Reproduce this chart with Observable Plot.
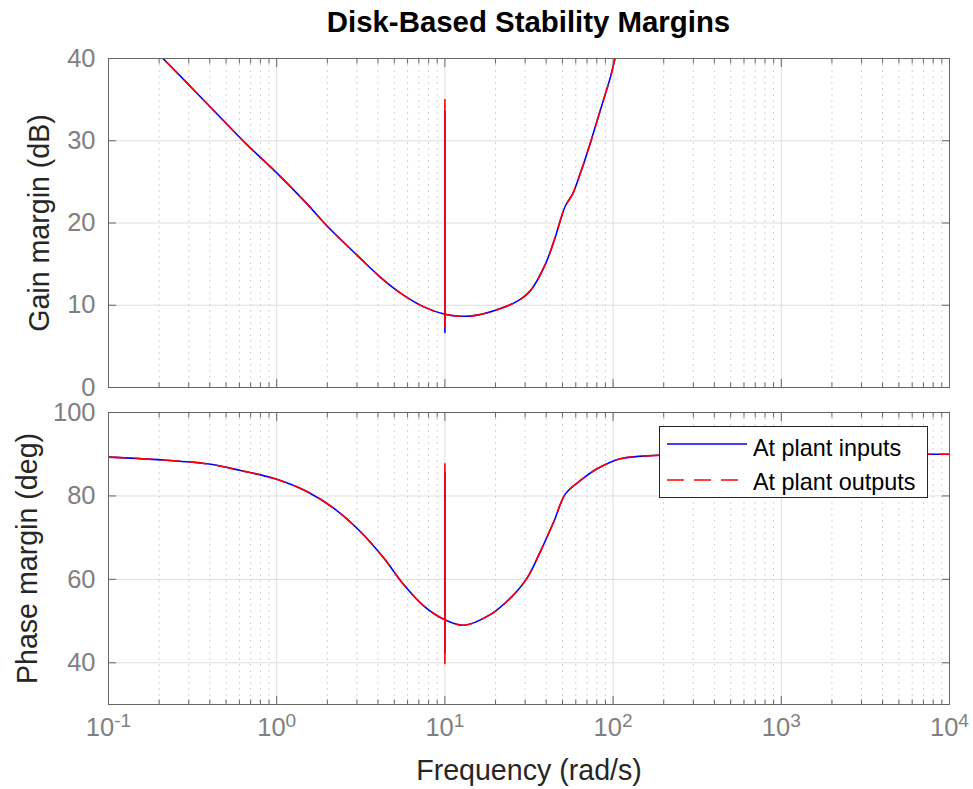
<!DOCTYPE html>
<html><head><meta charset="utf-8">
<script src="https://cdn.jsdelivr.net/npm/d3@7"></script>
<script src="https://cdn.jsdelivr.net/npm/@observablehq/plot@0.6"></script>
<style>
html,body{margin:0;padding:0;background:#fff;}
#wrap{position:relative;width:973px;height:789px;font-family:"Liberation Sans",Arial,sans-serif;overflow:hidden;background:#fff;}
#title{position:absolute;left:108px;width:841px;top:4px;text-align:center;font-weight:bold;font-size:29.4px;color:#000;line-height:36px;}
.panel{position:absolute;left:0;}
#legend{position:absolute;left:659px;top:426px;width:267px;height:70px;border:1px solid #262626;background:#fff;font-size:23.4px;color:#000;}
#legend span{position:absolute;left:93px;line-height:26px;white-space:nowrap;}
#legend svg{position:absolute;left:0;top:0;}
</style></head><body>
<div id="wrap">
  <div id="title">Disk-Based Stability Margins</div>
  <div id="top" class="panel" style="top:0"></div>
  <div id="bot" class="panel" style="top:400px"></div>
  <div id="legend"></div>
</div>
<script>
// ---- data ----
const seriesNames = ["At plant inputs", "At plant outputs"];
const seriesColors = ["#0000ff", "#ff0000"];

// smooth part of the curves (identical for both series)
const gainFreq = [0.1, 0.204, 0.307, 0.485, 0.668, 1.0, 1.52, 2.0, 3.0, 4.14, 5.7, 7.5, 10, 12.4, 15.6, 21.4, 27.0, 32.3, 39.6, 45.5, 48.7, 52.1, 57.4, 64.0, 73.4, 84.2, 96.6, 103, 120];
const gainInputs = [46.6, 40.3, 36.6, 32.4, 29.5, 26.1, 22.3, 19.6, 16.1, 13.4, 11.2, 9.8, 8.9, 8.66, 8.8, 9.6, 10.5, 11.8, 15.0, 18.4, 20.4, 22.1, 23.5, 26.1, 29.8, 33.8, 37.8, 40.1, 44.5];
const gainOutputs = [46.6, 40.3, 36.6, 32.4, 29.5, 26.1, 22.3, 19.6, 16.1, 13.4, 11.2, 9.8, 8.9, 8.66, 8.8, 9.6, 10.5, 11.8, 15.0, 18.4, 20.4, 22.1, 23.5, 26.1, 29.8, 33.8, 37.8, 40.1, 44.5];

const phaseFreq = [0.1, 0.195, 0.386, 0.61, 0.98, 1.52, 2.19, 3.15, 4.33, 5.7, 7.5, 10, 12.97, 18.7, 24.5, 30.8, 37.0, 44.4, 52.1, 64.0, 80.4, 110.6, 174.6, 300, 1000, 10000];
const phaseInputs = [89.3, 88.7, 87.7, 86.1, 84.1, 81.0, 77.0, 71.4, 65.1, 58.7, 53.6, 50.3, 49.0, 51.6, 55.5, 60.3, 66.7, 73.8, 80.5, 83.7, 86.5, 88.9, 89.7, 89.9, 90.0, 90.0];
const phaseOutputs = [89.3, 88.7, 87.7, 86.1, 84.1, 81.0, 77.0, 71.4, 65.1, 58.7, 53.6, 50.3, 49.0, 51.6, 55.5, 60.3, 66.7, 73.8, 80.5, 83.7, 86.5, 88.9, 89.7, 89.9, 90.0, 90.0];

// notch spike at 10 rad/s (top, bottom)
const spikeFreq = [10, 10];
const gainSpikeInputs = [33.6, 6.7];
const gainSpikeOutputs = [35.0, 7.4];
const phaseSpikeInputs = [85.7, 42.5];
const phaseSpikeOutputs = [87.7, 39.8];

const xMajorTicks = [0.1, 1, 10, 100, 1000, 10000];
const xTickExponents = ["-1", "0", "1", "2", "3", "4"];
const gainTicks = [0, 10, 20, 30, 40];
const phaseTicks = [40, 60, 80, 100];

const xMinorTicks = xMajorTicks.slice(0, -1).flatMap(d => [2,3,4,5,6,7,8,9].map(m => m * d));

const FONT = '"Liberation Sans", Arial, sans-serif';
const BOX = "#666666";
const TICKLBL = "#808080";
const LBL = "#262626";
const DASH = "17,10";

function makePanel({height, mt, mb, yDomain, yTicks, freq, inputs, outputs, spikeIn, spikeOut, yLabel, labelX, showX}) {
  const dIn = freq.map((f, i) => ({f, v: inputs[i]}));
  const dOut = freq.map((f, i) => ({f, v: outputs[i]}));
  const sIn = spikeFreq.map((f, i) => ({f, v: spikeIn[i]}));
  const sOut = spikeFreq.map((f, i) => ({f, v: spikeOut[i]}));
  const none = () => "";
  const marks = [
    Plot.ruleX(xMinorTicks, {stroke: "#d2d2d2", strokeDasharray: "2,4"}),
    Plot.ruleX(xMajorTicks, {stroke: "#dedede"}),
    Plot.ruleY(yTicks, {stroke: "#dedede"}),
    Plot.line(dIn, {x: "f", y: "v", stroke: seriesColors[0], strokeWidth: 1.6, curve: "catmull-rom", clip: true}),
    Plot.line(sIn, {x: "f", y: "v", stroke: seriesColors[0], strokeWidth: 1.6, clip: true}),
    Plot.line(dOut, {x: "f", y: "v", stroke: seriesColors[1], strokeWidth: 1.6, strokeDasharray: DASH, curve: "catmull-rom", clip: true}),
    Plot.line(sOut, {x: "f", y: "v", stroke: seriesColors[1], strokeWidth: 1.6, clip: true}),
    Plot.frame({stroke: BOX, strokeWidth: 1}),
    // inward ticks
    Plot.axisX(xMajorTicks, {anchor: "bottom", tickSize: 8, dy: -8, tickFormat: none, stroke: BOX, label: null}),
    Plot.axisX(xMinorTicks, {anchor: "bottom", tickSize: 4.5, dy: -4.5, tickFormat: none, stroke: BOX, label: null}),
    Plot.axisX(xMajorTicks, {anchor: "top", tickSize: 8, dy: 8, tickFormat: none, stroke: BOX, label: null}),
    Plot.axisX(xMinorTicks, {anchor: "top", tickSize: 4.5, dy: 4.5, tickFormat: none, stroke: BOX, label: null}),
    Plot.axisY(yTicks, {anchor: "left", tickSize: 8, dx: 8, tickFormat: none, stroke: BOX, label: null}),
    Plot.axisY(yTicks, {anchor: "right", tickSize: 8, dx: -8, tickFormat: none, stroke: BOX, label: null}),
    // tick labels
    Plot.axisY(yTicks, {anchor: "left", tickSize: 0, tickPadding: 13, fill: TICKLBL, fontSize: 25.5, label: null}),
    Plot.text([yLabel], {text: d => d, frameAnchor: "left", dx: labelX - 108, rotate: -90, textAnchor: "middle", lineAnchor: "bottom", fontSize: 28.6, fill: LBL})
  ];
  if (showX) {
    marks.push(Plot.axisX(xMajorTicks, {anchor: "bottom", tickSize: 0, tickPadding: 13, fill: TICKLBL, fontSize: 25.5, label: null,
      tickFormat: (d) => xTickExponents[xMajorTicks.indexOf(d)]}));
    marks.push(Plot.text(["Frequency (rad/s)"], {text: d => d, frameAnchor: "bottom", dy: 66, lineAnchor: "middle", fontSize: 28.6, fill: LBL}));
  }
  return Plot.plot({
    width: 973, height,
    marginLeft: 108, marginRight: 24, marginTop: mt, marginBottom: mb,
    style: {fontFamily: FONT, fontSize: "25.5px", background: "transparent", overflow: "visible"},
    x: {type: "log", domain: [0.1, 10000], axis: null, label: null},
    y: {domain: yDomain, axis: null, label: null},
    marks
  });
}

const topPlot = makePanel({height: 400, mt: 58, mb: 13, yDomain: [0, 40], yTicks: gainTicks,
  freq: gainFreq, inputs: gainInputs, outputs: gainOutputs, spikeIn: gainSpikeInputs, spikeOut: gainSpikeOutputs,
  yLabel: "Gain margin (dB)", labelX: 48, showX: false});
const botPlot = makePanel({height: 389, mt: 12, mb: 85, yDomain: [30, 100], yTicks: phaseTicks,
  freq: phaseFreq, inputs: phaseInputs, outputs: phaseOutputs, spikeIn: phaseSpikeInputs, spikeOut: phaseSpikeOutputs,
  yLabel: "Phase margin (deg)", labelX: 36, showX: true});

document.getElementById("top").appendChild(topPlot);
document.getElementById("bot").appendChild(botPlot);

// superscript exponents on x tick labels
d3.select(botPlot).selectAll('g[aria-label="x-axis tick label"] text').each(function() {
  const t = d3.select(this);
  const e = t.text();
  if (!e) return;
  t.text("");
  t.append("tspan").text("10");
  t.append("tspan").attr("dy", "-0.45em").attr("font-size", "0.75em").text(e);
});

// legend
const leg = d3.select("#legend");
const lsvg = leg.append("svg").attr("width", 267).attr("height", 70);
seriesNames.forEach((name, i) => {
  const y = i === 0 ? 17 : 53;
  lsvg.append("line").attr("x1", 7).attr("x2", 87).attr("y1", y).attr("y2", y)
    .attr("stroke", seriesColors[i]).attr("stroke-width", 1.6)
    .attr("stroke-dasharray", i === 0 ? null : DASH);
  leg.append("span").style("top", (i === 0 ? 8 : 42) + "px").text(name);
});
</script>
</body></html>
